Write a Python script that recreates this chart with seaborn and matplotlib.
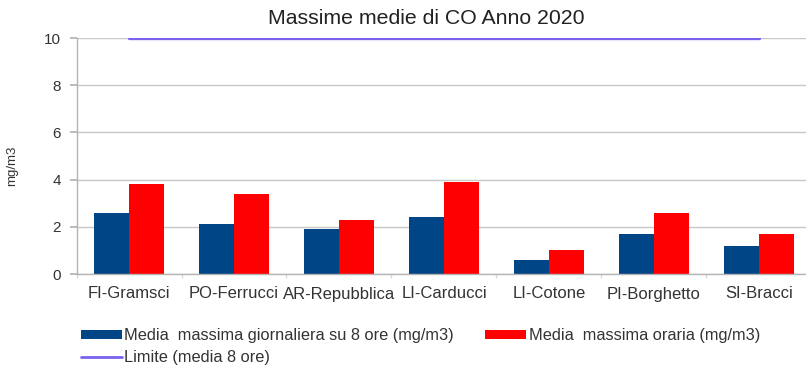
import matplotlib
matplotlib.use("Agg")
import matplotlib.pyplot as plt
from matplotlib.patches import Patch
from matplotlib.lines import Line2D
from matplotlib.ticker import FixedLocator
import seaborn as sns
import pandas as pd

stations = ["FI-Gramsci", "PO-Ferrucci", "AR-Repubblica", "LI-Carducci",
            "LI-Cotone", "PI-Borghetto", "SI-Bracci"]
media_8h = [2.6, 2.1, 1.9, 2.4, 0.6, 1.7, 1.2]
media_oraria = [3.8, 3.4, 2.3, 3.9, 1.0, 2.6, 1.7]
limite = [10, 10, 10, 10, 10, 10, 10]

lab_8h = "Media  massima giornaliera su 8 ore (mg/m3)"
lab_ora = "Media  massima oraria (mg/m3)"
lab_lim = "Limite (media 8 ore)"

c_blue = "#004586"
c_red = "#ff0000"
c_lim = "#7b61ee"
c_text = "#333333"
c_axis = "#b4b4b4"

df = pd.DataFrame({
    "stazione": stations * 2,
    "valore": media_8h + media_oraria,
    "serie": [lab_8h] * len(stations) + [lab_ora] * len(stations),
})

sns.set_theme(style="white")
plt.rcParams["font.family"] = ["Liberation Sans", "DejaVu Sans"]

W, H = 806, 367
fig = plt.figure(figsize=(W / 100, H / 100), dpi=100)
left, right, top, bottom = 76.5, 811.5, 38, 274
ax = fig.add_axes([left / W, 1 - bottom / H, (right - left) / W, (bottom - top) / H])

sns.barplot(data=df, x="stazione", y="valore", hue="serie",
            palette=[c_blue, c_red], width=0.67, saturation=1,
            linewidth=0, ax=ax, legend=False)
sns.lineplot(x=list(range(len(stations))), y=limite, color=c_lim,
             linewidth=2.4, ax=ax, legend=False)

ax.set_ylim(0, 10)
ax.set_xlim(-0.5, len(stations) - 0.5)
ax.set_yticks([0, 2, 4, 6, 8, 10])
ax.set_xticks(range(len(stations)))
ax.set_xticklabels(stations)
ax.xaxis.set_minor_locator(FixedLocator([i + 0.5 for i in range(-1, len(stations))]))
ax.yaxis.grid(True, color="#c8c8c8", linewidth=1)
ax.set_axisbelow(True)
for s in ["top", "right"]:
    ax.spines[s].set_visible(False)
for s in ["left", "bottom"]:
    ax.spines[s].set_color(c_axis)
    ax.spines[s].set_linewidth(1)
ax.tick_params(axis="y", length=5, color=c_axis, labelsize=11,
               labelcolor=c_text, left=True, pad=6)
ax.tick_params(axis="x", which="major", length=0, labelsize=12,
               labelcolor=c_text, pad=9)
ax.tick_params(axis="x", which="minor", length=3, color="#d8d8d8",
               bottom=True)
ax.set_xlabel("")
ax.set_ylabel("mg/m3", fontsize=9.5, color=c_text)
ax.yaxis.set_label_coords((18 - left) / (right - left), (bottom - 166) / (bottom - top))

fig.text(426 / W, 1 - 18 / H, "Massime medie di CO Anno 2020", ha="center",
         va="center", fontsize=15.3, color="#222222")

handles = [Patch(facecolor=c_blue, edgecolor="none"),
           Line2D([0], [0], color=c_lim, linewidth=2),
           Patch(facecolor=c_red, edgecolor="none")]
labels = [lab_8h, lab_lim, lab_ora]
fig.legend(handles, labels, ncol=2, loc="upper left",
           bbox_to_anchor=(81 / W, 1 - 328 / H), frameon=False,
           fontsize=11.8, handlelength=2.5, handleheight=0.45,
           handletextpad=0.15, columnspacing=1.9, labelspacing=0.45,
           labelcolor=c_text, borderaxespad=0, borderpad=0)

fig.savefig("out.png", dpi=100, facecolor="white")
